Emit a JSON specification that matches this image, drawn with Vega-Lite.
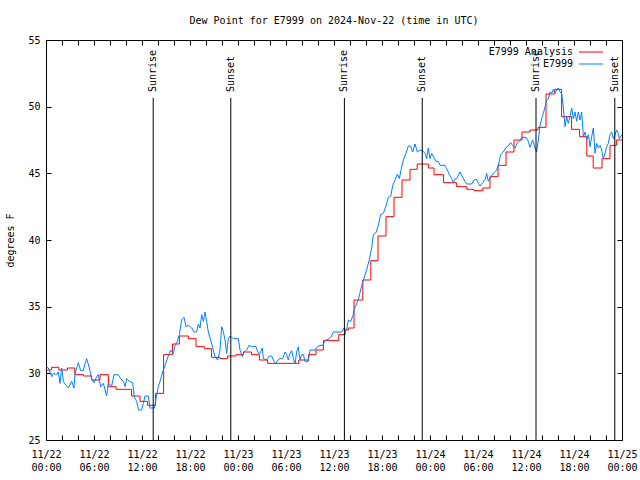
{
  "$schema": "https://vega.github.io/schema/vega-lite/v6.json",
  "width": 576,
  "height": 400,
  "autosize": {"type": "none"},
  "padding": {"left": 46, "top": 40, "right": 18, "bottom": 40},
  "background": "white",
  "title": {
    "text": "Dew Point for E7999 on 2024-Nov-22 (time in UTC)",
    "font": "DejaVu Sans Mono",
    "fontSize": 10,
    "fontWeight": "normal",
    "anchor": "middle",
    "offset": 9,
    "color": "black"
  },
  "config": {
    "view": {"stroke": "black", "strokeWidth": 1},
    "font": "DejaVu Sans Mono",
    "axis": {
      "domain": false,
      "grid": false,
      "tickColor": "black",
      "tickSize": -5,
      "labelFont": "DejaVu Sans Mono",
      "labelFontSize": 10,
      "labelColor": "black",
      "labelOverlap": false,
      "labelFlush": false,
      "labelBound": false,
      "titleFont": "DejaVu Sans Mono",
      "titleFontSize": 10,
      "titleFontWeight": "normal",
      "titleColor": "black"
    }
  },
  "datasets": {
    "analysis": [
      {"hour": 0, "dewpoint": 30.25}, {"hour": 0.7, "dewpoint": 30.45}, {"hour": 1.6, "dewpoint": 30.25},
      {"hour": 2.67, "dewpoint": 30.4}, {"hour": 3.6, "dewpoint": 29.9}, {"hour": 4.67, "dewpoint": 29.8},
      {"hour": 5.7, "dewpoint": 29.5}, {"hour": 6.75, "dewpoint": 29.9}, {"hour": 7.8, "dewpoint": 29.0},
      {"hour": 8.75, "dewpoint": 28.8}, {"hour": 10.7, "dewpoint": 28.3}, {"hour": 11.75, "dewpoint": 27.9},
      {"hour": 12.7, "dewpoint": 27.6}, {"hour": 13.7, "dewpoint": 28.5}, {"hour": 14.7, "dewpoint": 31.4},
      {"hour": 15.8, "dewpoint": 32.2}, {"hour": 16.67, "dewpoint": 32.8}, {"hour": 17.8, "dewpoint": 32.6},
      {"hour": 18.75, "dewpoint": 32.0}, {"hour": 19.8, "dewpoint": 31.85}, {"hour": 20.7, "dewpoint": 31.2},
      {"hour": 21.75, "dewpoint": 31.1}, {"hour": 22.7, "dewpoint": 31.3}, {"hour": 23.75, "dewpoint": 31.4},
      {"hour": 24.67, "dewpoint": 31.6}, {"hour": 25.7, "dewpoint": 31.4}, {"hour": 26.67, "dewpoint": 31.0},
      {"hour": 27.7, "dewpoint": 30.75}, {"hour": 31.6, "dewpoint": 31.0}, {"hour": 32.8, "dewpoint": 31.4},
      {"hour": 33.75, "dewpoint": 31.75}, {"hour": 34.67, "dewpoint": 32.45}, {"hour": 36.6, "dewpoint": 32.9},
      {"hour": 37.4, "dewpoint": 33.25}, {"hour": 37.8, "dewpoint": 33.4}, {"hour": 38.5, "dewpoint": 35.5},
      {"hour": 39.6, "dewpoint": 37.0}, {"hour": 40.6, "dewpoint": 38.45}, {"hour": 41.5, "dewpoint": 40.3},
      {"hour": 42.5, "dewpoint": 41.75}, {"hour": 43.5, "dewpoint": 43.2}, {"hour": 44.5, "dewpoint": 44.5},
      {"hour": 45.5, "dewpoint": 45.3}, {"hour": 46.4, "dewpoint": 45.7}, {"hour": 47.8, "dewpoint": 45.4},
      {"hour": 48.5, "dewpoint": 44.9}, {"hour": 49.7, "dewpoint": 44.3}, {"hour": 51.3, "dewpoint": 44.0},
      {"hour": 52.6, "dewpoint": 43.8}, {"hour": 53.5, "dewpoint": 43.7}, {"hour": 54.6, "dewpoint": 43.9},
      {"hour": 55.5, "dewpoint": 44.75}, {"hour": 56.5, "dewpoint": 45.6}, {"hour": 57.5, "dewpoint": 46.6},
      {"hour": 58.5, "dewpoint": 47.5}, {"hour": 59.5, "dewpoint": 48.1}, {"hour": 60.5, "dewpoint": 48.25},
      {"hour": 61.5, "dewpoint": 48.45}, {"hour": 62.5, "dewpoint": 50.95}, {"hour": 63.6, "dewpoint": 51.3},
      {"hour": 64.45, "dewpoint": 49.25}, {"hour": 65.7, "dewpoint": 48.3}, {"hour": 66.7, "dewpoint": 47.75},
      {"hour": 67.6, "dewpoint": 46.3}, {"hour": 68.4, "dewpoint": 45.4}, {"hour": 69.5, "dewpoint": 46.1},
      {"hour": 70.5, "dewpoint": 47.1}, {"hour": 71.3, "dewpoint": 47.5}, {"hour": 72, "dewpoint": 47.5}
    ],
    "obs": [
      {"hour": 0.0, "dewpoint": 30.5}, {"hour": 0.29, "dewpoint": 30.4}, {"hour": 0.71, "dewpoint": 29.75},
      {"hour": 0.92, "dewpoint": 30.0}, {"hour": 1.33, "dewpoint": 29.9}, {"hour": 1.54, "dewpoint": 30.1},
      {"hour": 1.75, "dewpoint": 29.25}, {"hour": 1.96, "dewpoint": 30.4}, {"hour": 2.17, "dewpoint": 29.4},
      {"hour": 2.38, "dewpoint": 29.2}, {"hour": 2.79, "dewpoint": 28.9}, {"hour": 3.21, "dewpoint": 29.4},
      {"hour": 3.5, "dewpoint": 28.9}, {"hour": 3.63, "dewpoint": 30.0}, {"hour": 4.04, "dewpoint": 30.8},
      {"hour": 4.33, "dewpoint": 30.2}, {"hour": 4.67, "dewpoint": 30.2}, {"hour": 4.88, "dewpoint": 30.75},
      {"hour": 5.08, "dewpoint": 31.1}, {"hour": 5.42, "dewpoint": 30.4}, {"hour": 5.71, "dewpoint": 29.6},
      {"hour": 6.0, "dewpoint": 29.3}, {"hour": 6.33, "dewpoint": 29.75}, {"hour": 6.54, "dewpoint": 29.9},
      {"hour": 6.83, "dewpoint": 29.0}, {"hour": 7.17, "dewpoint": 29.25}, {"hour": 7.58, "dewpoint": 28.3},
      {"hour": 7.79, "dewpoint": 29.25}, {"hour": 8.21, "dewpoint": 29.05}, {"hour": 8.5, "dewpoint": 29.9},
      {"hour": 9.04, "dewpoint": 29.9}, {"hour": 9.33, "dewpoint": 29.6}, {"hour": 9.67, "dewpoint": 29.4},
      {"hour": 9.88, "dewpoint": 29.0}, {"hour": 10.08, "dewpoint": 29.6}, {"hour": 10.42, "dewpoint": 29.4},
      {"hour": 10.83, "dewpoint": 29.3}, {"hour": 11.04, "dewpoint": 28.25}, {"hour": 11.33, "dewpoint": 27.9},
      {"hour": 11.58, "dewpoint": 27.25}, {"hour": 11.96, "dewpoint": 27.25}, {"hour": 12.17, "dewpoint": 27.75},
      {"hour": 12.38, "dewpoint": 28.3}, {"hour": 12.79, "dewpoint": 28.3}, {"hour": 13.0, "dewpoint": 27.4},
      {"hour": 13.54, "dewpoint": 27.4}, {"hour": 13.75, "dewpoint": 28.1}, {"hour": 14.04, "dewpoint": 29.0},
      {"hour": 14.25, "dewpoint": 29.4}, {"hour": 14.58, "dewpoint": 30.1}, {"hour": 14.88, "dewpoint": 30.6},
      {"hour": 15.29, "dewpoint": 31.3}, {"hour": 15.58, "dewpoint": 31.75}, {"hour": 15.92, "dewpoint": 31.5},
      {"hour": 16.13, "dewpoint": 32.1}, {"hour": 16.42, "dewpoint": 32.4}, {"hour": 16.67, "dewpoint": 32.9},
      {"hour": 16.96, "dewpoint": 34.0}, {"hour": 17.25, "dewpoint": 34.2}, {"hour": 17.5, "dewpoint": 33.5},
      {"hour": 17.79, "dewpoint": 33.6}, {"hour": 18.21, "dewpoint": 33.4}, {"hour": 18.5, "dewpoint": 33.1},
      {"hour": 18.83, "dewpoint": 33.1}, {"hour": 19.04, "dewpoint": 33.7}, {"hour": 19.25, "dewpoint": 33.4},
      {"hour": 19.46, "dewpoint": 34.4}, {"hour": 19.67, "dewpoint": 33.9}, {"hour": 19.88, "dewpoint": 34.6},
      {"hour": 20.08, "dewpoint": 33.9}, {"hour": 20.29, "dewpoint": 33.1}, {"hour": 20.58, "dewpoint": 32.5},
      {"hour": 20.92, "dewpoint": 31.75}, {"hour": 21.13, "dewpoint": 31.25}, {"hour": 21.46, "dewpoint": 31.0},
      {"hour": 21.75, "dewpoint": 31.75}, {"hour": 21.96, "dewpoint": 33.5}, {"hour": 22.17, "dewpoint": 33.1},
      {"hour": 22.38, "dewpoint": 32.5}, {"hour": 22.58, "dewpoint": 31.5}, {"hour": 22.79, "dewpoint": 32.6},
      {"hour": 23.0, "dewpoint": 32.8}, {"hour": 23.42, "dewpoint": 32.6}, {"hour": 24.04, "dewpoint": 32.6},
      {"hour": 24.25, "dewpoint": 31.75}, {"hour": 24.54, "dewpoint": 31.25}, {"hour": 24.75, "dewpoint": 31.6},
      {"hour": 25.08, "dewpoint": 31.75}, {"hour": 25.38, "dewpoint": 32.1}, {"hour": 25.71, "dewpoint": 32.0},
      {"hour": 26.25, "dewpoint": 32.0}, {"hour": 26.54, "dewpoint": 31.5}, {"hour": 26.75, "dewpoint": 31.5},
      {"hour": 27.04, "dewpoint": 31.9}, {"hour": 27.17, "dewpoint": 31.1}, {"hour": 27.58, "dewpoint": 31.0},
      {"hour": 27.92, "dewpoint": 31.3}, {"hour": 28.21, "dewpoint": 31.3}, {"hour": 28.42, "dewpoint": 31.0},
      {"hour": 28.71, "dewpoint": 30.75}, {"hour": 29.17, "dewpoint": 31.1}, {"hour": 29.58, "dewpoint": 31.1},
      {"hour": 29.88, "dewpoint": 31.6}, {"hour": 30.08, "dewpoint": 31.4}, {"hour": 30.29, "dewpoint": 31.0},
      {"hour": 30.5, "dewpoint": 31.5}, {"hour": 30.71, "dewpoint": 31.7}, {"hour": 30.92, "dewpoint": 31.1},
      {"hour": 31.13, "dewpoint": 30.7}, {"hour": 31.33, "dewpoint": 31.6}, {"hour": 31.54, "dewpoint": 32.0},
      {"hour": 31.75, "dewpoint": 31.0}, {"hour": 31.96, "dewpoint": 31.4}, {"hour": 32.17, "dewpoint": 31.4},
      {"hour": 32.38, "dewpoint": 30.9}, {"hour": 32.79, "dewpoint": 30.9}, {"hour": 33.0, "dewpoint": 31.75},
      {"hour": 33.63, "dewpoint": 31.75}, {"hour": 33.92, "dewpoint": 32.0}, {"hour": 34.25, "dewpoint": 32.1},
      {"hour": 34.58, "dewpoint": 32.1}, {"hour": 34.88, "dewpoint": 32.45}, {"hour": 35.42, "dewpoint": 32.6},
      {"hour": 35.71, "dewpoint": 32.8}, {"hour": 35.92, "dewpoint": 33.1}, {"hour": 36.96, "dewpoint": 33.1},
      {"hour": 37.25, "dewpoint": 33.4}, {"hour": 37.58, "dewpoint": 33.25}, {"hour": 37.79, "dewpoint": 34.0},
      {"hour": 38.08, "dewpoint": 33.9}, {"hour": 38.33, "dewpoint": 34.25}, {"hour": 38.63, "dewpoint": 34.95},
      {"hour": 39.04, "dewpoint": 35.5}, {"hour": 39.33, "dewpoint": 36.25}, {"hour": 39.67, "dewpoint": 37.0},
      {"hour": 40.08, "dewpoint": 37.75}, {"hour": 40.42, "dewpoint": 38.55}, {"hour": 40.71, "dewpoint": 39.4},
      {"hour": 40.92, "dewpoint": 40.4}, {"hour": 41.25, "dewpoint": 40.55}, {"hour": 41.54, "dewpoint": 41.1},
      {"hour": 41.83, "dewpoint": 41.9}, {"hour": 42.17, "dewpoint": 42.0}, {"hour": 42.5, "dewpoint": 42.55},
      {"hour": 42.79, "dewpoint": 43.2}, {"hour": 43.08, "dewpoint": 43.25}, {"hour": 43.33, "dewpoint": 44.05},
      {"hour": 43.63, "dewpoint": 44.5}, {"hour": 43.92, "dewpoint": 44.95}, {"hour": 44.17, "dewpoint": 44.6},
      {"hour": 44.38, "dewpoint": 45.25}, {"hour": 44.67, "dewpoint": 46.0}, {"hour": 45.0, "dewpoint": 46.5},
      {"hour": 45.29, "dewpoint": 47.05}, {"hour": 45.58, "dewpoint": 47.05}, {"hour": 45.83, "dewpoint": 46.6},
      {"hour": 46.13, "dewpoint": 47.2}, {"hour": 46.42, "dewpoint": 46.6}, {"hour": 46.75, "dewpoint": 46.75},
      {"hour": 47.04, "dewpoint": 46.7}, {"hour": 47.38, "dewpoint": 46.5}, {"hour": 47.58, "dewpoint": 46.1},
      {"hour": 47.79, "dewpoint": 46.9}, {"hour": 48.0, "dewpoint": 46.1}, {"hour": 48.21, "dewpoint": 46.5},
      {"hour": 48.42, "dewpoint": 46.25}, {"hour": 48.75, "dewpoint": 45.9}, {"hour": 49.04, "dewpoint": 45.9},
      {"hour": 49.25, "dewpoint": 45.6}, {"hour": 49.88, "dewpoint": 45.6}, {"hour": 50.17, "dewpoint": 45.25},
      {"hour": 50.42, "dewpoint": 44.9}, {"hour": 50.71, "dewpoint": 44.6}, {"hour": 50.92, "dewpoint": 44.3},
      {"hour": 51.13, "dewpoint": 44.6}, {"hour": 51.33, "dewpoint": 44.6}, {"hour": 51.75, "dewpoint": 45.1},
      {"hour": 52.08, "dewpoint": 44.7}, {"hour": 52.38, "dewpoint": 44.4}, {"hour": 52.58, "dewpoint": 44.2},
      {"hour": 53.21, "dewpoint": 44.2}, {"hour": 53.5, "dewpoint": 44.5}, {"hour": 53.83, "dewpoint": 44.55},
      {"hour": 54.04, "dewpoint": 44.25}, {"hour": 54.25, "dewpoint": 44.05}, {"hour": 54.58, "dewpoint": 44.3},
      {"hour": 54.88, "dewpoint": 44.55}, {"hour": 55.08, "dewpoint": 45.0}, {"hour": 55.29, "dewpoint": 44.4},
      {"hour": 55.58, "dewpoint": 44.75}, {"hour": 55.92, "dewpoint": 45.0}, {"hour": 56.33, "dewpoint": 45.25},
      {"hour": 56.54, "dewpoint": 45.6}, {"hour": 56.83, "dewpoint": 46.4}, {"hour": 57.17, "dewpoint": 46.6},
      {"hour": 57.5, "dewpoint": 46.95}, {"hour": 57.79, "dewpoint": 47.05}, {"hour": 58.08, "dewpoint": 47.3},
      {"hour": 58.33, "dewpoint": 47.1}, {"hour": 58.63, "dewpoint": 46.9}, {"hour": 58.92, "dewpoint": 47.3},
      {"hour": 59.25, "dewpoint": 47.45}, {"hour": 59.46, "dewpoint": 47.7}, {"hour": 60.0, "dewpoint": 47.7},
      {"hour": 60.29, "dewpoint": 47.4}, {"hour": 60.5, "dewpoint": 46.95}, {"hour": 60.83, "dewpoint": 47.5},
      {"hour": 61.13, "dewpoint": 46.9}, {"hour": 61.33, "dewpoint": 46.6}, {"hour": 61.54, "dewpoint": 47.5},
      {"hour": 61.75, "dewpoint": 48.55}, {"hour": 61.96, "dewpoint": 49.1}, {"hour": 62.17, "dewpoint": 49.5},
      {"hour": 62.38, "dewpoint": 50.0}, {"hour": 62.58, "dewpoint": 50.5}, {"hour": 62.79, "dewpoint": 50.6},
      {"hour": 63.0, "dewpoint": 51.1}, {"hour": 63.21, "dewpoint": 51.0}, {"hour": 63.42, "dewpoint": 51.3},
      {"hour": 63.63, "dewpoint": 51.0}, {"hour": 63.83, "dewpoint": 51.25}, {"hour": 64.04, "dewpoint": 51.4},
      {"hour": 64.25, "dewpoint": 51.1}, {"hour": 64.46, "dewpoint": 51.0}, {"hour": 64.67, "dewpoint": 49.9},
      {"hour": 64.88, "dewpoint": 48.5}, {"hour": 65.08, "dewpoint": 49.25}, {"hour": 65.29, "dewpoint": 48.75},
      {"hour": 65.5, "dewpoint": 49.25}, {"hour": 65.71, "dewpoint": 49.9}, {"hour": 65.92, "dewpoint": 49.1},
      {"hour": 66.13, "dewpoint": 49.6}, {"hour": 66.33, "dewpoint": 48.9}, {"hour": 66.54, "dewpoint": 49.6},
      {"hour": 66.75, "dewpoint": 49.0}, {"hour": 66.96, "dewpoint": 49.6}, {"hour": 67.17, "dewpoint": 47.75},
      {"hour": 67.38, "dewpoint": 48.1}, {"hour": 67.58, "dewpoint": 47.5}, {"hour": 67.79, "dewpoint": 47.9},
      {"hour": 68.0, "dewpoint": 47.0}, {"hour": 68.21, "dewpoint": 47.75}, {"hour": 68.42, "dewpoint": 48.4},
      {"hour": 68.63, "dewpoint": 46.5}, {"hour": 68.83, "dewpoint": 47.25}, {"hour": 69.04, "dewpoint": 46.9},
      {"hour": 69.25, "dewpoint": 47.1}, {"hour": 69.46, "dewpoint": 46.75}, {"hour": 69.67, "dewpoint": 46.1},
      {"hour": 69.88, "dewpoint": 46.5}, {"hour": 70.08, "dewpoint": 47.0}, {"hour": 70.29, "dewpoint": 47.25},
      {"hour": 70.5, "dewpoint": 47.9}, {"hour": 70.71, "dewpoint": 48.1}, {"hour": 70.92, "dewpoint": 47.6},
      {"hour": 71.13, "dewpoint": 47.9}, {"hour": 71.33, "dewpoint": 48.25}, {"hour": 71.54, "dewpoint": 48.0},
      {"hour": 71.67, "dewpoint": 47.6}, {"hour": 72.0, "dewpoint": 47.9}
    ],
    "sun": [
      {"hour": 13.4, "event": "Sunrise"},
      {"hour": 23.1, "event": "Sunset"},
      {"hour": 37.3, "event": "Sunrise"},
      {"hour": 47.03, "event": "Sunset"},
      {"hour": 61.25, "event": "Sunrise"},
      {"hour": 71.1, "event": "Sunset"}
    ]
  },
  "layer": [
    {
      "data": {"name": "analysis"},
      "mark": {"type": "line", "interpolate": "step-after", "strokeWidth": 1, "clip": true},
      "encoding": {
        "x": {
          "field": "hour", "type": "quantitative",
          "scale": {"domain": [0, 72], "nice": false, "zero": false},
          "axis": {
            "orient": "bottom", "title": null,
            "values": [0,2,4,6,8,10,12,14,16,18,20,22,24,26,28,30,32,34,36,38,40,42,44,46,48,50,52,54,56,58,60,62,64,66,68,70,72],
            "labelExpr": "datum.value % 6 == 0 ? ['11/' + (22 + floor(datum.value / 24)), (datum.value % 24 < 10 ? '0' : '') + (datum.value % 24) + ':00'] : ''",
            "labelPadding": 14,
            "labelBaseline": "top",
            "labelLineHeight": 13.5,
            "labelAlign": "center"
          }
        },
        "y": {
          "field": "dewpoint", "type": "quantitative",
          "scale": {"domain": [25, 55], "nice": false, "zero": false},
          "axis": {
            "orient": "left",
            "values": [25, 30, 35, 40, 45, 50, 55],
            "labelPadding": 11,
            "title": "degrees F",
            "titleAngle": 270,
            "titleX": -36,
            "titleY": 200,
            "titleAlign": "center",
            "titleBaseline": "middle"
          }
        },
        "color": {
          "datum": "E7999 Analysis",
          "type": "nominal",
          "scale": {"domain": ["E7999 Analysis", "E7999"], "range": ["#ff0000", "#0080ff"]},
          "legend": {
            "orient": "none",
            "legendX": 535,
            "legendY": 7,
            "title": null,
            "symbolType": "M-4,0H4",
            "symbolSize": 36,
            "symbolStrokeWidth": 1,
            "symbolFillColor": "transparent",
            "symbolOffset": 5,
            "labelAlign": "right",
            "labelOffset": -23,
            "labelFont": "DejaVu Sans Mono",
            "labelFontSize": 10,
            "labelColor": "black",
            "rowPadding": 2,
            "padding": 0
          }
        }
      }
    },
    {
      "data": {"name": "obs"},
      "mark": {"type": "line", "strokeWidth": 1, "clip": true},
      "encoding": {
        "x": {"field": "hour", "type": "quantitative", "axis": null},
        "y": {"field": "dewpoint", "type": "quantitative", "axis": null},
        "color": {"datum": "E7999", "type": "nominal"}
      }
    },
    {
      "data": {"name": "sun"},
      "mark": {"type": "rule", "color": "black", "strokeWidth": 1},
      "encoding": {
        "x": {
          "field": "hour", "type": "quantitative",
          "axis": {
            "orient": "top", "title": null, "labels": false,
            "values": [0,2,4,6,8,10,12,14,16,18,20,22,24,26,28,30,32,34,36,38,40,42,44,46,48,50,52,54,56,58,60,62,64,66,68,70,72]
          }
        },
        "y": {"datum": 50.65, "type": "quantitative",
          "axis": {"orient": "right", "title": null, "labels": false, "values": [25, 30, 35, 40, 45, 50, 55]}},
        "y2": {"datum": 25}
      }
    },
    {
      "data": {"name": "sun"},
      "mark": {"type": "text", "angle": 270, "align": "left", "baseline": "middle", "font": "DejaVu Sans Mono", "fontSize": 10, "color": "black"},
      "encoding": {
        "x": {"field": "hour", "type": "quantitative", "axis": null},
        "y": {"datum": 51.1, "type": "quantitative", "axis": null},
        "text": {"field": "event"}
      }
    }
  ],
  "resolve": {"axis": {"x": "independent", "y": "independent"}}
}
